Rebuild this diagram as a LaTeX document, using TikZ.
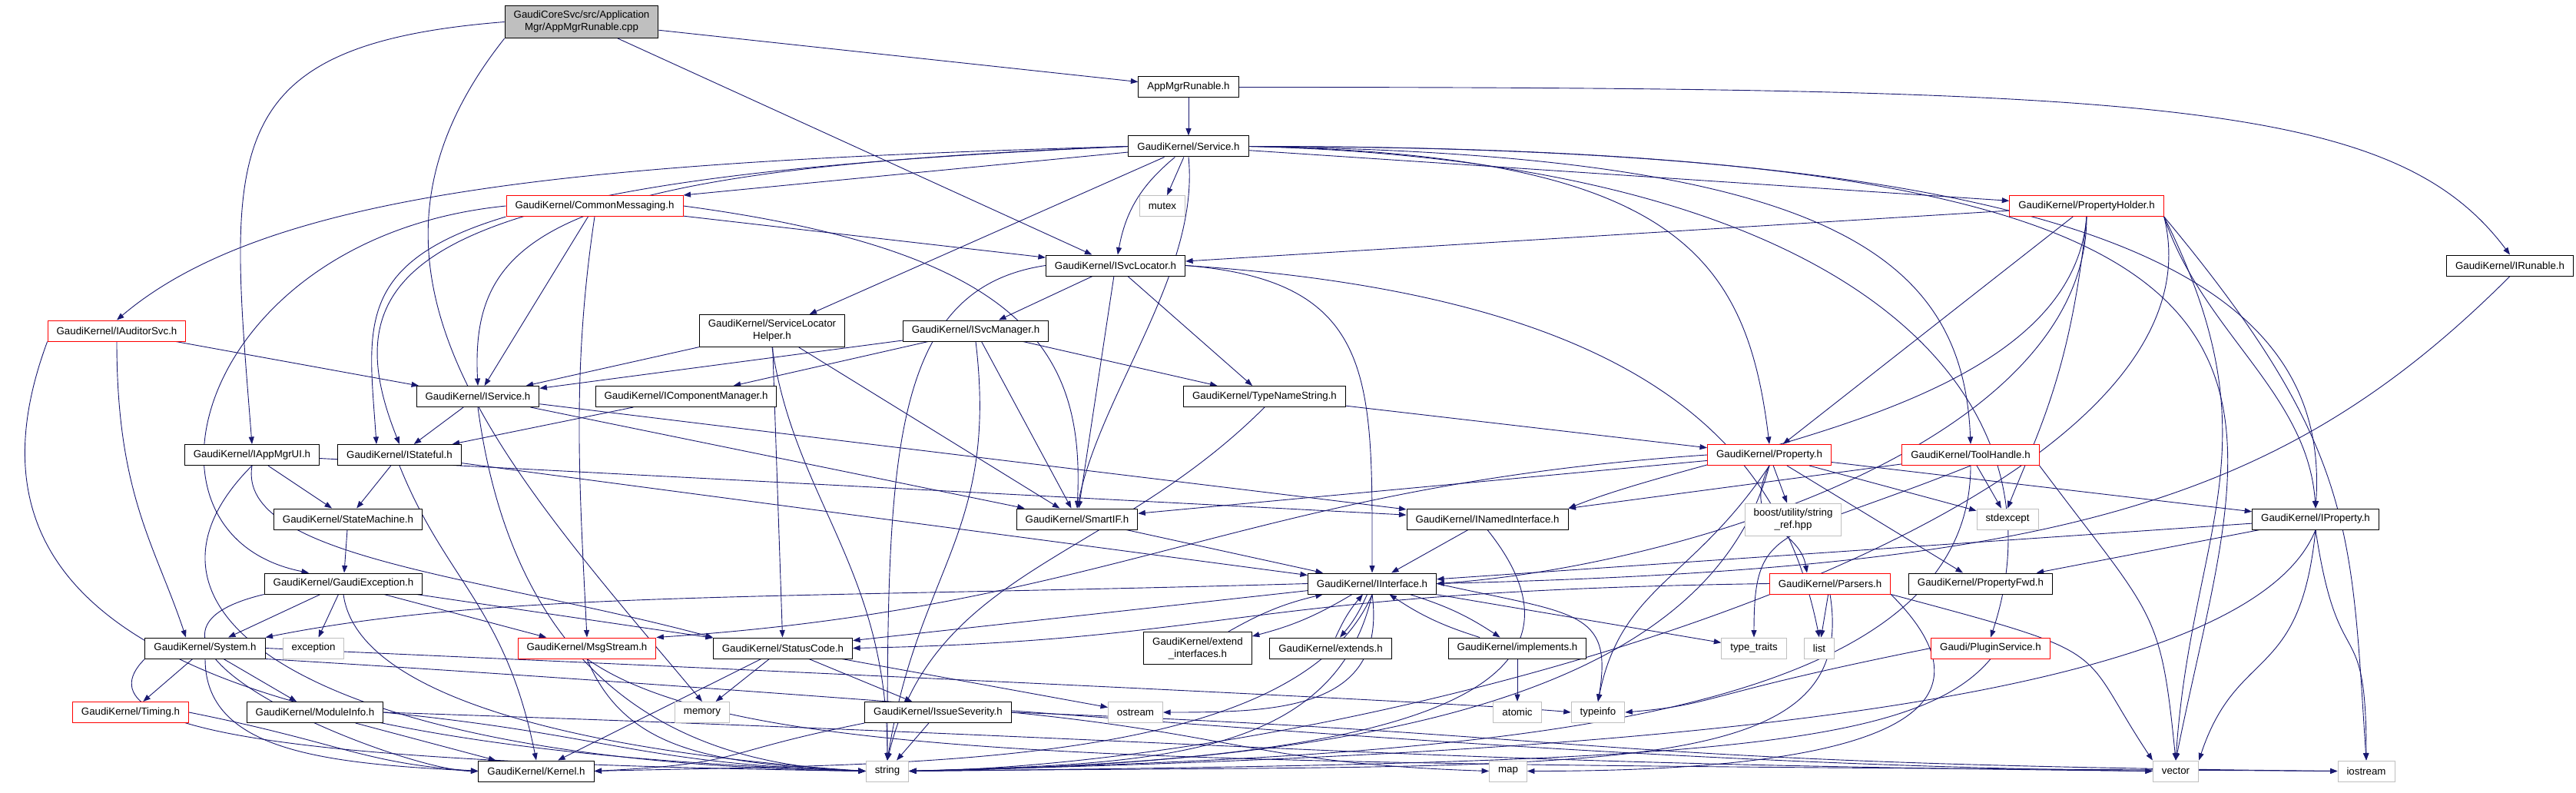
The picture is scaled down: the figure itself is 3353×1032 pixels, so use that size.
\documentclass[tikz,border=0pt]{standalone}
\usepackage{fontspec}
\setmainfont{Liberation Sans}
\usepackage{tikz}
\usetikzlibrary{arrows.meta,backgrounds}
\definecolor{edgeblue}{HTML}{191970}
\definecolor{sysgray}{HTML}{BFBFBF}
\newcommand\hdrfont{\fontsize{13.3}{16}\selectfont}
\tikzset{
  header/.style={draw=black,line width=1pt,fill=white,inner xsep=11.5pt,inner ysep=0pt,
    minimum height=27pt,font=\hdrfont,align=center},
  truncated header/.style={header,draw=red},
  system header/.style={header,draw=sysgray},
  source file/.style={header,fill=sysgray},
  two lines/.style={minimum height=42pt},
  dependency/.style={draw=edgeblue,line width=0.9pt,-{Triangle[length=9.5pt,width=7pt]}},
}

\begin{document}
\begin{tikzpicture}[x=1pt,y=-1pt]
\useasboundingbox (0,0) rectangle (3353,1032);
% rank 0 - 3
\node[source file,two lines] (root) at (757,28.5) {GaudiCoreSvc/src/Application\\Mgr/AppMgrRunable.cpp};
\node[header] (appmgrh) at (1547,113.5) {AppMgrRunable.h};
\node[header] (service) at (1547,190.5) {GaudiKernel/Service.h};
\node[truncated header] (commonmsg) at (774,268) {GaudiKernel/CommonMessaging.h};
\node[system header] (mutex) at (1513,268) {mutex};
\node[truncated header] (propholder) at (2716,268) {GaudiKernel/PropertyHolder.h};
% rank 4 - 6
\node[header] (isvclocator) at (1452,345.5) {GaudiKernel/ISvcLocator.h};
\node[header] (irunable) at (3267,345.5) {GaudiKernel/IRunable.h};
\node[truncated header] (iauditorsvc) at (152,430.5) {GaudiKernel/IAuditorSvc.h};
\node[header,two lines] (slhelper) at (1005,430.5) {GaudiKernel/ServiceLocator\\Helper.h};
\node[header] (isvcmanager) at (1270,430.5) {GaudiKernel/ISvcManager.h};
\node[header] (iservice) at (622,516) {GaudiKernel/IService.h};
\node[header] (icompmgr) at (893,516) {GaudiKernel/IComponentManager.h};
\node[header] (typename) at (1646,516) {GaudiKernel/TypeNameString.h};
% rank 7 - 8
\node[header] (iappmgrui) at (328,592) {GaudiKernel/IAppMgrUI.h};
\node[header] (istateful) at (520,592) {GaudiKernel/IStateful.h};
\node[truncated header] (property) at (2303,592) {GaudiKernel/Property.h};
\node[truncated header] (toolhandle) at (2565,592) {GaudiKernel/ToolHandle.h};
\node[header] (statemachine) at (453,675.5) {GaudiKernel/StateMachine.h};
\node[header] (smartif) at (1402,675.5) {GaudiKernel/SmartIF.h};
\node[header] (inamed) at (1936,675.5) {GaudiKernel/INamedInterface.h};
\node[system header,two lines] (boostref) at (2334,676) {boost/utility/string\\\_ref.hpp};
\node[system header] (stdexcept) at (2613,675.5) {stdexcept};
\node[header] (iproperty) at (3014,675.5) {GaudiKernel/IProperty.h};
% rank 9 - 10
\node[header] (gaudiexc) at (447,759.5) {GaudiKernel/GaudiException.h};
\node[header] (iinterface) at (1786,759.5) {GaudiKernel/IInterface.h};
\node[truncated header] (parsers) at (2382,759.5) {GaudiKernel/Parsers.h};
\node[header] (propfwd) at (2578,759.5) {GaudiKernel/PropertyFwd.h};
\node[header] (system) at (267,843.5) {GaudiKernel/System.h};
\node[system header] (exception) at (408,843.5) {exception};
\node[truncated header] (msgstream) at (764,843.5) {GaudiKernel/MsgStream.h};
\node[header] (statuscode) at (1019,843.5) {GaudiKernel/StatusCode.h};
\node[header,two lines] (extendif) at (1559,843.5) {GaudiKernel/extend\\\_interfaces.h};
\node[header] (extends) at (1732,843.5) {GaudiKernel/extends.h};
\node[header] (implements) at (1975,843.5) {GaudiKernel/implements.h};
\node[system header] (typetraits) at (2283,843.5) {type\_traits};
\node[system header] (list) at (2368,843.5) {list};
\node[truncated header] (pluginsvc) at (2591,843.5) {Gaudi/PluginService.h};
% rank 11 - 12
\node[truncated header] (timing) at (170,927) {GaudiKernel/Timing.h};
\node[header] (moduleinfo) at (410,927) {GaudiKernel/ModuleInfo.h};
\node[system header] (memory) at (914,927) {memory};
\node[header] (issuesev) at (1221,927) {GaudiKernel/IssueSeverity.h};
\node[system header] (ostream) at (1478,927) {ostream};
\node[system header] (atomic) at (1975,927) {atomic};
\node[system header] (typeinfo) at (2080,927) {typeinfo};
\node[header] (kernel) at (698,1003.5) {GaudiKernel/Kernel.h};
\node[system header] (string) at (1155,1003.5) {string};
\node[system header] (map) at (1963,1003.5) {map};
\node[system header] (vector) at (2832,1003.5) {vector};
\node[system header] (iostream) at (3080,1003.5) {iostream};

\begin{scope}[on background layer]
% straight includes
\foreach \from/\to in {root/appmgrh,root/isvclocator,appmgrh/service,service/mutex,
  service/slhelper,service/propholder,commonmsg/isvclocator,commonmsg/iservice,
  propholder/isvclocator,propholder/property,isvclocator/isvcmanager,isvclocator/typename,
  isvclocator/smartif,iauditorsvc/iservice,slhelper/iservice,slhelper/statuscode,
  slhelper/smartif,isvcmanager/icompmgr,isvcmanager/iservice,isvcmanager/smartif,
  isvcmanager/typename,iservice/istateful,iservice/smartif,iservice/inamed,
  icompmgr/istateful,typename/property,iappmgrui/statemachine,iappmgrui/inamed,
  istateful/statemachine,istateful/iinterface,property/smartif,property/boostref,
  property/stdexcept,property/propfwd,property/iproperty,toolhandle/inamed,
  toolhandle/stdexcept,statemachine/gaudiexc,smartif/iinterface,inamed/iinterface,
  iproperty/iinterface,iproperty/propfwd,gaudiexc/system,gaudiexc/exception,
  gaudiexc/statuscode,gaudiexc/msgstream,iinterface/statuscode,iinterface/typetraits,
  implements/atomic,parsers/list,system/timing,system/moduleinfo,statuscode/memory,
  statuscode/issuesev,statuscode/ostream,statuscode/kernel,moduleinfo/kernel,
  issuesev/string}
  \draw[dependency] (\from) -- (\to);
% IInterface and its helpers include each other
\foreach \helper in {extendif,extends,implements} {
  \draw[dependency] (iinterface) to[bend left=8] (\helper);
  \draw[dependency] (\helper) to[bend left=8] (iinterface);
}
% source file
\draw[dependency] (root.west) .. controls +(-380,30) and +(-30,-380) .. (iappmgrui.north);
\draw[dependency] (root.south west) .. controls +(-238,300) and +(-264,-314) .. (memory.north);
\draw[dependency] (appmgrh.east) .. controls +(1200,0) and +(-150,-200) .. (irunable.north);
% Service.h
\draw[dependency] (service) -- (commonmsg.north east);
\draw[dependency] (service.west) .. controls +(-700,20) and +(200,-170) .. (iauditorsvc.north);
\draw[dependency] (service.west) .. controls +(-750,30) and +(-10,-200) .. (iservice.north);
\draw[dependency] (service.west) .. controls +(-900,40) and +(-100,-250) .. (istateful.north);
\draw[dependency] (service) to[bend right=20] (isvclocator);
\draw[dependency] (service.south) .. controls +(15,150) and +(30,-150) .. (smartif.north);
\draw[dependency] (service.east) .. controls +(550,10) and +(-30,-250) .. (property.north);
\draw[dependency] (service.east) .. controls +(750,10) and +(-10,-250) .. (toolhandle.north);
\draw[dependency] (service.east) .. controls +(820,20) and +(100,-300) .. (pluginsvc.north);
\draw[dependency] (service.east) .. controls +(1100,0) and +(20,-300) .. (iproperty.north);
\draw[dependency] (service.east) .. controls +(1500,0) and +(100,-500) .. (vector.north);
% CommonMessaging.h
\draw[dependency] (commonmsg.east) .. controls +(450,60) and +(10,-200) .. (smartif.north);
\draw[dependency] (commonmsg.west) .. controls +(-400,40) and +(-250,-50) .. ([xshift=-45pt]gaudiexc.north);
\draw[dependency] (commonmsg.south) .. controls +(-30,200) and +(-10,-200) .. (msgstream.north);
\draw[dependency] (commonmsg.south west) .. controls +(-200,60) and +(-10,-150) .. ([xshift=-30pt]istateful.north);
% PropertyHolder.h
\draw[dependency] (propholder.south) .. controls +(-20,250) and +(200,-80) .. (inamed.north east);
\draw[dependency] (propholder.south east) .. controls +(50,150) and +(-10,-150) .. (iproperty.north);
\draw[dependency] (propholder.south) .. controls +(-20,200) and +(40,-100) .. (stdexcept.north);
\draw[dependency] (propholder.south) .. controls +(0,300) and +(300,-20) .. (iinterface.east);
\draw[dependency] (propholder.south east) .. controls +(100,400) and +(600,-10) .. (string.east);
\draw[dependency] (propholder.south east) .. controls +(150,300) and +(20,-300) .. (vector.north);
\draw[dependency] (propholder.south east) .. controls +(250,300) and +(-20,-300) .. (iostream.north);
% ISvcLocator.h
\draw[dependency] (isvclocator.east) .. controls +(250,20) and +(0,-250) .. (iinterface.north);
\draw[dependency] (isvclocator.east) .. controls +(600,40) and +(-50,-250) .. (list.north);
\draw[dependency] (isvclocator.west) .. controls +(-200,30) and +(0,-400) .. (string.north);
\draw[dependency] (irunable.south) .. controls +(-300,300) and +(800,-20) .. (iinterface.east);
% left column
\draw[dependency] (iauditorsvc.south) .. controls +(0,200) and +(-40,-120) .. ([xshift=-25pt]system.north);
\draw[dependency] (iauditorsvc.south west) .. controls +(-130,350) and +(-900,-30) .. (string.west);
\draw[dependency] (slhelper.south) .. controls +(30,200) and +(0,-250) .. (string.north);
\draw[dependency] (isvcmanager.south) .. controls +(30,250) and +(40,-250) .. (string.north);
\draw[dependency] (iservice.south) .. controls +(40,300) and +(-300,-10) .. (string.west);
\draw[dependency] (typename.south) .. controls +(-200,200) and +(60,-250) .. (string.north);
\draw[dependency] (iappmgrui.south) .. controls +(-20,120) and +(-300,-80) .. (statuscode.north west);
\draw[dependency] (iappmgrui.south) .. controls +(-200,200) and +(-700,-10) .. (string.west);
\draw[dependency] (istateful.south) .. controls +(60,150) and +(-40,-200) .. (kernel.north);
% Property.h and ToolHandle.h
\draw[dependency] (property.west) .. controls +(-600,40) and +(600,-40) .. (msgstream.north east);
\draw[dependency] (property.south) .. controls +(-40,80) and +(-10,-60) .. ([xshift=-30pt]parsers.north);
\draw[dependency] (property.south) .. controls +(-100,150) and +(30,-150) .. (typeinfo.north);
\draw[dependency] (property.south) .. controls +(-80,300) and +(600,-10) .. (string.east);
\draw[dependency] (toolhandle.south) .. controls +(-250,100) and +(0,-150) .. (typetraits.north);
\draw[dependency] (toolhandle.south) .. controls +(0,350) and +(700,-20) .. (string.east);
\draw[dependency] (toolhandle.south east) .. controls +(150,200) and +(-20,-200) .. (vector.north);
\draw[dependency] (inamed.south) .. controls +(200,250) and +(500,-10) .. (string.east);
\draw[dependency] (iproperty.south) .. controls +(-100,250) and +(800,-20) .. (string.east);
\draw[dependency] (iproperty.south) .. controls +(-20,200) and +(50,-150) .. (vector.north east);
\draw[dependency] (iproperty.south) .. controls +(30,200) and +(0,-200) .. (iostream.north);
% GaudiException.h and IInterface.h
\draw[dependency] (gaudiexc.south west) .. controls +(-250,60) and +(-100,0) .. (kernel.west);
\draw[dependency] (gaudiexc.south) .. controls +(20,150) and +(-300,-20) .. (string.west);
\draw[dependency] (iinterface.west) .. controls +(-700,20) and +(300,-60) .. (system.north east);
\draw[dependency] (iinterface.south) .. controls +(20,150) and +(150,0) .. (ostream.east);
\draw[dependency] (iinterface.south) .. controls +(-100,230) and +(400,-10) .. (kernel.east);
\draw[dependency] (iinterface.south) .. controls +(-50,220) and +(300,-10) .. (string.east);
\draw[dependency] (iinterface.east) .. controls +(180,40) and +(20,-120) .. (typeinfo.north);
% Parsers.h and PluginService.h
\draw[dependency] (parsers.west) .. controls +(-700,10) and +(500,-10) .. (statuscode.east);
\draw[dependency] (parsers.south) .. controls +(40,250) and +(900,-10) .. (string.east);
\draw[dependency] (parsers.south east) .. controls +(300,80) and +(-100,-150) .. (vector.north west);
\draw[dependency] (parsers.south east) .. controls +(200,200) and +(300,0) .. (map.east);
\draw[dependency] (pluginsvc.west) .. controls +(-300,60) and +(120,-10) .. (typeinfo.east);
\draw[dependency] (pluginsvc.south) .. controls +(-100,120) and +(1000,-10) .. (string.east);
% System.h and below
\draw[dependency] (system.south) .. controls +(0,120) and +(-200,-10) .. (kernel.west);
\draw[dependency] (system.south west) .. controls +(-100,100) and +(-700,-10) .. (string.west);
\draw[dependency] (system.east) .. controls +(900,40) and +(-100,-10) .. (typeinfo.west);
\draw[dependency] (system.south east) .. controls +(1000,60) and +(-800,-10) .. (vector.west);
\draw[dependency] (msgstream.south) .. controls +(50,120) and +(-200,-10) .. (string.west);
\draw[dependency] (msgstream.south) .. controls +(200,140) and +(-1500,-10) .. (iostream.west);
\draw[dependency] (timing.east) .. controls +(200,40) and +(-150,-10) .. (kernel.west);
\draw[dependency] (moduleinfo.east) .. controls +(300,30) and +(-300,-10) .. (string.west);
\draw[dependency] (moduleinfo.east) .. controls +(1200,40) and +(-1000,-10) .. (vector.west);
\draw[dependency] (issuesev.south west) .. controls +(-200,40) and +(200,-10) .. (kernel.east);
\draw[dependency] (issuesev.east) .. controls +(300,30) and +(-300,-10) .. (map.west);
\draw[dependency] (issuesev.east) .. controls +(800,30) and +(-1000,-10) .. (iostream.west);
\end{scope}
\end{tikzpicture}
\end{document}
